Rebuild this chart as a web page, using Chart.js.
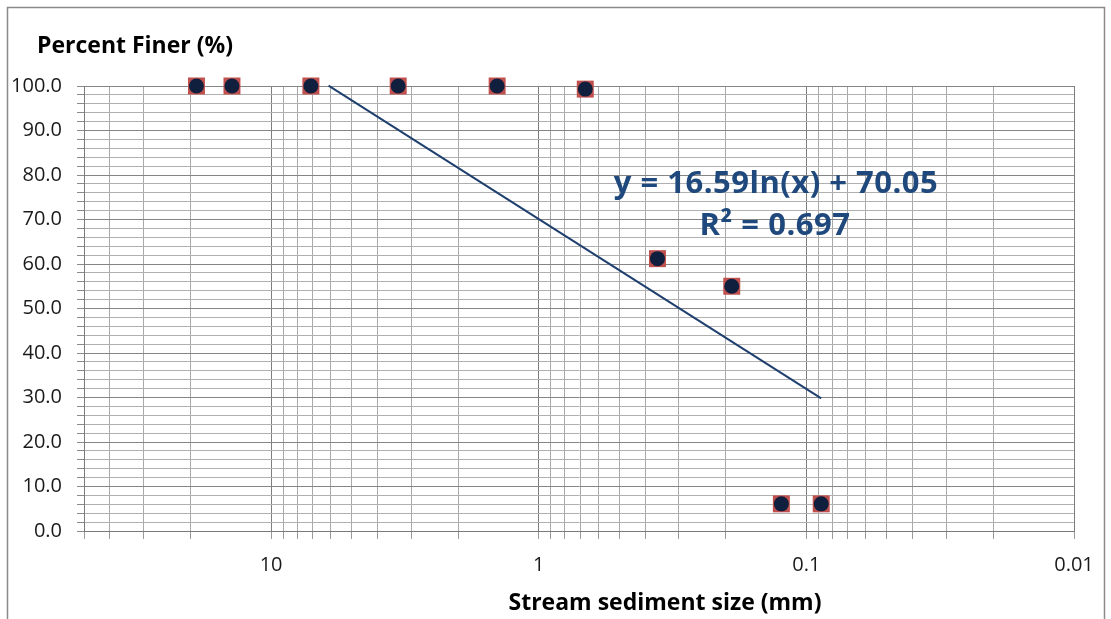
<!DOCTYPE html>
<html>
<head>
<meta charset="utf-8">
<script src="https://cdn.jsdelivr.net/npm/chart.js@4.4.1/dist/chart.umd.min.js"></script>
<style>
	html, body { margin: 0; padding: 0; background: #fff; }
	#wrap { width: 1111px; height: 619px; position: relative; }
</style>
</head>
<body>
<div id="wrap"><canvas id="gradationChart"></canvas></div>
<script>
// sieve sizes (mm) and percent finer
const sizes = [19.0, 14.0, 7.1, 3.35, 1.43, 0.67, 0.36, 0.19, 0.124, 0.088];
const percentFiner = [100.0, 100.0, 100.0, 100.0, 100.0, 99.3, 61.2, 55.0, 6.1, 6.1];

// log trendline end points as drawn
const trendSizes = [6.1, 0.088];
const trendValues = [100.1, 29.8];

const xLabelValues = [10, 1, 0.1, 0.01];
const yLabelStep = 10;

const equationText = 'y = 16.59ln(x) + 70.05';
const rSquaredText = 'R² = 0.697';

const FONT = '"Open Sans", "DejaVu Sans", sans-serif';

document.addEventListener('DOMContentLoaded', () => {
	const canvas = document.getElementById('gradationChart');

	const toPoints = (xs, ys) => xs.map((x, i) => ({ x: x, y: ys[i] }));

	const textPlugin = {
		id: 'chartText',
		afterDraw(chart) {
			const ctx = chart.ctx;
			ctx.save();
			// outer frame
			ctx.strokeStyle = '#8a8a8a';
			ctx.lineWidth = 1.5;
			ctx.strokeRect(7.5, 7.5, 1097, 700);

			ctx.fillStyle = '#000';
			ctx.textBaseline = 'middle';
			ctx.textAlign = 'left';
			ctx.font = 'bold 23px ' + FONT;
			ctx.fillText('Percent Finer (%)', 37, 46);

			ctx.textAlign = 'center';
			ctx.font = 'bold 23px ' + FONT;
			ctx.fillText('Stream sediment size (mm)', 665, 603);

			ctx.fillStyle = '#1f497d';
			ctx.font = 'bold 31px ' + FONT;
			ctx.letterSpacing = '0.5px';
			ctx.fillText(equationText, 776, 184);
			ctx.fillText(rSquaredText, 775, 226);
			ctx.restore();
		}
	};

	new Chart(canvas.getContext('2d'), {
		type: 'scatter',
		data: {
			datasets: [
				{
					label: 'Trend',
					type: 'line',
					data: toPoints(trendSizes, trendValues),
					borderColor: '#1f3f6e',
					borderWidth: 2,
					pointRadius: 0,
					fill: false,
					clip: false,
					order: 3
				},
				{
					label: 'Frame',
					data: toPoints(sizes, percentFiner),
					pointStyle: 'rect',
					pointRadius: 12,
					pointHoverRadius: 12,
					backgroundColor: '#c0504d',
					borderColor: '#c0504d',
					borderWidth: 0,
					clip: false,
					order: 2
				},
				{
					label: 'Percent finer',
					data: toPoints(sizes, percentFiner),
					pointStyle: 'circle',
					pointRadius: 7.5,
					pointHoverRadius: 7.5,
					backgroundColor: '#0f1f3d',
					borderColor: '#0f1f3d',
					borderWidth: 0,
					clip: false,
					order: 1
				}
			]
		},
		options: {
			responsive: true,
			maintainAspectRatio: false,
			animation: false,
			layout: {
				padding: { top: 86, right: 37, left: 0, bottom: 0 }
			},
			plugins: {
				legend: { display: false },
				tooltip: { enabled: false }
			},
			scales: {
				x: {
					type: 'logarithmic',
					reverse: true,
					min: 0.01,
					max: 50,
					afterBuildTicks: (scale) => {
						const ticks = [];
						for (let e = -2; e <= 1; e++) {
							for (let m = 1; m <= 9; m++) {
								const v = parseFloat((m * Math.pow(10, e)).toPrecision(3));
								if (v >= 0.01 && v <= 50) ticks.push({ value: v });
							}
						}
						ticks.push({ value: 50 });
						scale.ticks = ticks;
					},
					afterFit: (scale) => { scale.height = 88; },
					border: { color: '#7a7a7a', width: 1 },
					grid: {
						color: (c) => xLabelValues.includes(c.tick && c.tick.value) ? '#7d7d7d' : '#a8a8a8',
						tickColor: '#9a9a9a',
						tickLength: 8,
						lineWidth: 1
					},
					ticks: {
						autoSkip: false,
						maxRotation: 0,
						padding: 14,
						color: '#1a1a1a',
						font: { family: FONT, size: 20 },
						callback: (v) => xLabelValues.includes(v) ? String(v) : ''
					}
				},
				y: {
					min: 0,
					max: 100,
					afterFit: (scale) => { scale.width = 84; },
					border: { color: '#7a7a7a', width: 1 },
					grid: {
						color: (c) => (c.tick && c.tick.value % yLabelStep === 0) ? '#858585' : '#b0b0b0',
						tickColor: '#8a8a8a',
						tickLength: 7,
						lineWidth: 1
					},
					ticks: {
						stepSize: 2,
						autoSkip: false,
						padding: 15,
						color: '#1a1a1a',
						font: { family: FONT, size: 20 },
						callback: (v) => v % yLabelStep === 0 ? v.toFixed(1) : ''
					}
				}
			}
		},
		plugins: [textPlugin]
	});
});
</script>
</body>
</html>
